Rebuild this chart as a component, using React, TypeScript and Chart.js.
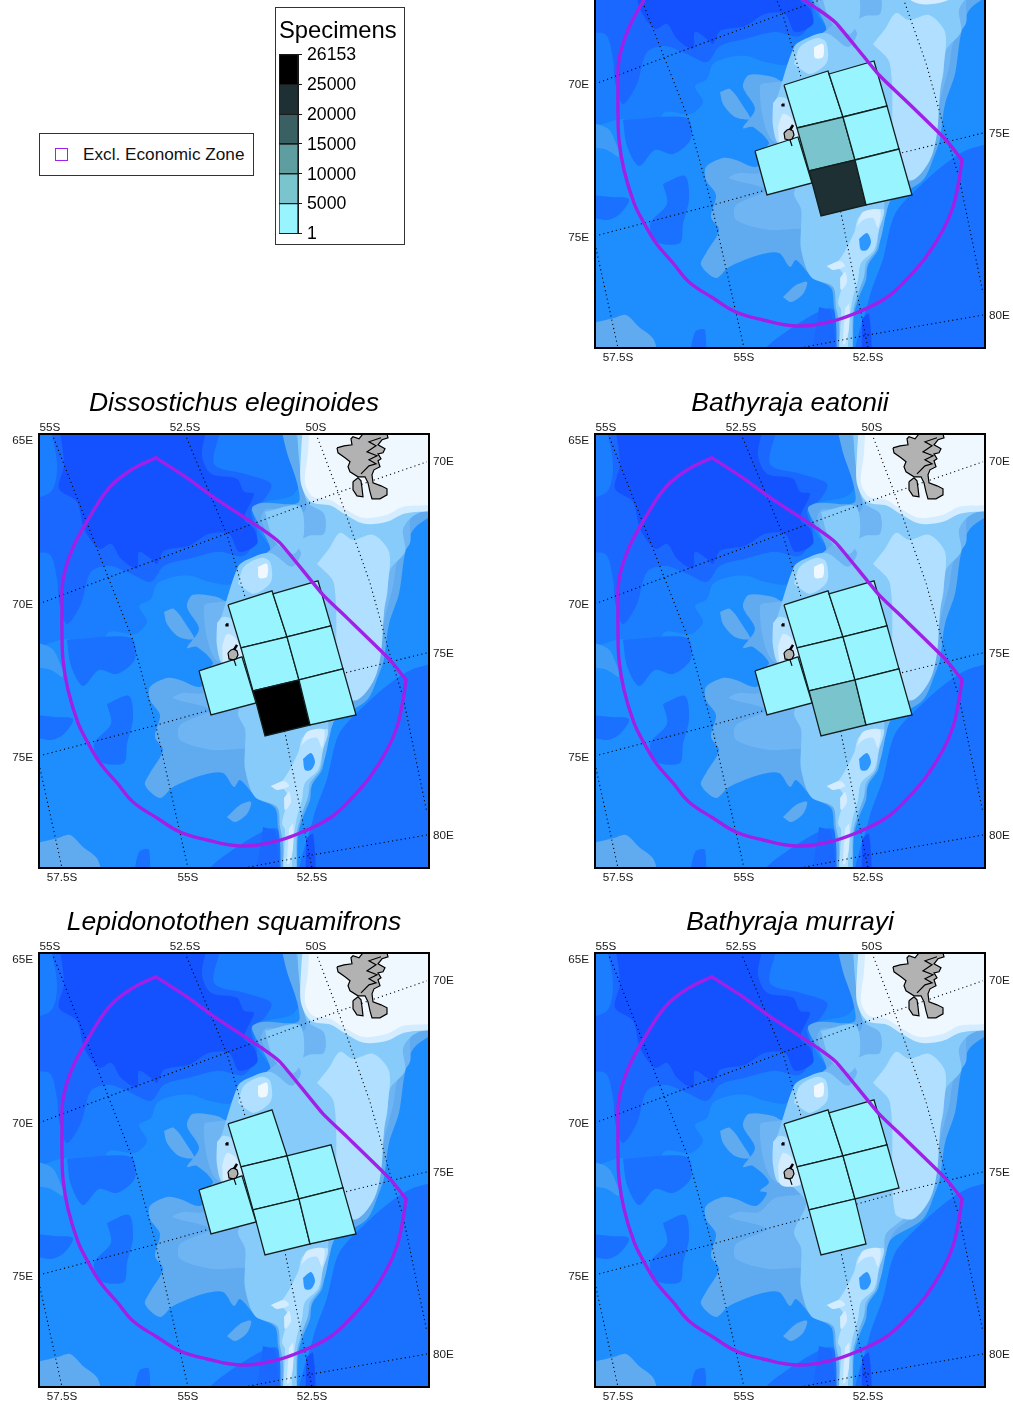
import React, { useEffect, useRef } from "react";
import { Chart, registerables } from "chart.js";

Chart.register(...registerables);

type P = number[];

// ---- map extents (projected map units) ----
const mapWidth = 390;
const mapHeight = 434;

// ---- graticule tick labels ----
const topTickAt = [11, 146, 277];
const topTickLabels = ["55S", "52.5S", "50S"];
const bottomTickAt = [23, 149, 273];
const bottomTickLabels = ["57.5S", "55S", "52.5S"];
const leftTickAt = [6, 170, 323];
const leftTickLabels = ["65E", "70E", "75E"];
const rightTickAt = [27, 219, 401];
const rightTickLabels = ["70E", "75E", "80E"];

// ---- graticule ----
const meridian575: P[] = [[0, 330], [23, 434]];
const meridian55: P[] = [[13, 0], [93, 204], [116, 288], [149, 434]];
const meridian525: P[] = [[146, 0], [168, 53], [188, 101], [201, 146], [246, 299], [273, 434]];
const meridian50: P[] = [[277, 0], [299, 58], [331, 149], [351, 221], [364, 263], [388, 379]];
const parallel70: P[] = [[0, 170], [71, 143], [184, 101], [298, 59], [388, 28]];
const parallel75: P[] = [[0, 322], [118, 291], [171, 276], [306, 239], [388, 219]];
const parallel80: P[] = [[205, 434], [273, 421], [388, 401]];

// ---- exclusive economic zone ----
const eezArc: P[] = [
  [117, 24], [94, 35], [71, 53], [49, 86], [33, 116], [24, 146], [23, 173], [23, 199], [24, 226], [29, 256],
  [39, 289], [49, 309], [61, 329], [78, 349], [94, 368], [118, 384], [141, 398], [168, 406], [201, 412],
  [234, 408], [261, 399], [291, 384], [311, 366], [331, 343], [348, 316], [358, 293], [364, 266], [367, 246],
];
const eezNorthEast: P[] = [
  [367, 246], [351, 226], [308, 184], [284, 161], [261, 133], [241, 109], [224, 96], [174, 63], [148, 44], [117, 24],
];

// ---- bathymetry contours, deepest first ----
const contourNorth: P[] = [
  [0, 0], [300, 0], [255, 60], [225, 69], [215, 80], [222, 100], [232, 118], [205, 130], [193, 150], [170, 148],
  [152, 142], [135, 143], [118, 150], [112, 165], [100, 172], [108, 188], [96, 200], [70, 198], [60, 215],
  [40, 212], [28, 205], [0, 212],
];
const contourEast: P[] = [
  [390, 226], [372, 236], [350, 250], [325, 272], [300, 300], [288, 345], [274, 385], [264, 434], [390, 434],
];
const contourWestPatchA: P[] = [[68, 270], [90, 262], [94, 285], [88, 310], [85, 329], [62, 328], [55, 310], [72, 290]];
const contourWestPatchB: P[] = [[0, 279], [15, 283], [34, 285], [25, 300], [10, 306], [0, 295]];
const contourWestPatchC: P[] = [[28, 206], [92, 204], [96, 225], [78, 240], [60, 236], [44, 252], [32, 232]];
const contourSouthA: P[] = [[93, 434], [100, 418], [110, 416], [108, 434]];
const contourSouthB: P[] = [[150, 434], [185, 422], [238, 395], [240, 434]];
const contourMid: P[] = [
  [8, 0], [180, 0], [175, 30], [205, 40], [232, 50], [225, 66], [212, 76], [218, 100], [205, 122], [180, 118],
  [150, 125], [125, 132], [112, 148], [92, 140], [70, 132], [52, 138], [42, 170], [28, 190], [20, 168],
  [18, 145], [10, 120], [0, 118], [0, 72], [12, 58], [18, 30],
];
const contourDeep: P[] = [
  [18, 0], [165, 0], [163, 22], [172, 40], [198, 45], [205, 58], [215, 60], [205, 85], [215, 95], [218, 110],
  [200, 118], [190, 100], [170, 100], [150, 112], [125, 117], [118, 130], [112, 125], [100, 118], [98, 135],
  [82, 125], [72, 110], [60, 115], [45, 95], [38, 68], [20, 55], [25, 30],
];
const contourDeepRidgeA: P[] = [[224, 393], [236, 398], [238, 434], [218, 434]];
const contourDeepRidgeB: P[] = [[267, 405], [274, 400], [276, 434], [268, 434]];
const contourShelfSW: P[] = [[0, 413], [19, 404], [31, 401], [44, 413], [59, 426], [61, 434], [0, 434]];
const contourShelfWest: P[] = [[0, 205], [12, 214], [22, 232], [24, 243], [12, 236], [0, 228]];
const contourShelfSouth: P[] = [[188, 383], [201, 371], [212, 368], [208, 380], [196, 388]];
const contourPlateau1: P[] = [
  [239, 0], [390, 0], [390, 66], [375, 95], [366, 120], [360, 160], [350, 190], [345, 225], [340, 240], [328, 266],
  [300, 283], [294, 289], [291, 301], [286, 319], [283, 336], [273, 351], [271, 366], [264, 383], [259, 401],
  [256, 434], [244, 434], [241, 408], [239, 393], [236, 374], [218, 364], [201, 346], [195, 353], [184, 339],
  [164, 341], [134, 353], [121, 364], [106, 351], [111, 339], [124, 316], [116, 303], [121, 281], [111, 266],
  [111, 253], [128, 244], [141, 246], [161, 253], [172, 240], [165, 238], [174, 229], [158, 213], [148, 214],
  [160, 195], [148, 173], [154, 161], [178, 163], [190, 168], [193, 150], [201, 133], [231, 118], [219, 89],
  [213, 74], [224, 69], [259, 69], [258, 49], [248, 19],
];
const contourIslet: P[] = [[125, 178], [135, 175], [150, 195], [155, 205], [140, 203], [128, 190]];
const contourPlateau2: P[] = [
  [250, 0], [390, 0], [390, 68], [373, 83], [371, 109], [359, 126], [354, 153], [346, 183], [338, 213], [334, 236],
  [318, 263], [300, 278], [292, 295], [288, 315], [284, 330], [275, 345], [268, 365], [262, 385], [256, 400],
  [254, 434], [247, 434], [245, 400], [243, 380], [238, 365], [215, 345], [208, 333], [211, 316], [174, 316],
  [141, 306], [141, 291], [171, 276], [134, 264], [144, 259], [164, 259], [180, 245], [215, 240], [176, 225],
  [165, 172], [180, 168], [200, 165], [205, 150], [215, 130], [240, 108], [232, 105], [222, 85], [228, 75],
  [265, 78], [266, 50], [262, 20],
];
const contourPlateau3: P[] = [
  [258, 0], [390, 0], [390, 60], [373, 83], [364, 96], [366, 118], [351, 136], [348, 163], [339, 189], [331, 219],
  [321, 239], [311, 263], [291, 281], [289, 301], [284, 316], [281, 336], [271, 349], [269, 363], [263, 379],
  [258, 399], [256, 434], [246, 434], [244, 409], [241, 393], [238, 373], [216, 363], [206, 335], [206, 313],
  [206, 295], [199, 279], [211, 250], [195, 230], [178, 200], [184, 178], [199, 133], [208, 126], [231, 119],
  [253, 133], [262, 120], [258, 110], [270, 102], [285, 100], [285, 80], [268, 68], [260, 25],
];
const contourNorthPatch3: P[] = [[226, 78], [260, 72], [265, 100], [255, 120], [238, 110], [232, 100]];
const contourPlateau4: P[] = [
  [278, 130], [290, 115], [301, 99], [314, 106], [334, 101], [350, 118], [349, 150], [345, 179], [342, 219],
  [335, 246], [318, 266], [300, 260], [295, 150],
];
const contourNorthRise4: P[] = [[199, 150], [205, 133], [222, 124], [231, 128], [232, 148], [215, 160]];
const contourRidge4: P[] = [
  [231, 353], [244, 346], [259, 319], [264, 303], [281, 296], [289, 296], [284, 316], [279, 336], [266, 349],
  [263, 366], [258, 383], [254, 409], [251, 434], [244, 434], [246, 396], [243, 389], [249, 363], [243, 354],
];
const contourHeardRise4: P[] = [[178, 189], [184, 183], [193, 186], [203, 210], [206, 228], [184, 230], [178, 212]];
const contourKerguelen5: P[] = [
  [265, 0], [262, 20], [262, 50], [272, 68], [292, 72], [305, 80], [325, 90], [348, 88], [365, 80], [390, 70], [390, 0],
];
const contourRidgeBasin: P[] = [[264, 325], [272, 319], [276, 328], [272, 336], [266, 336]];
const contourRidge5A: P[] = [[232, 352], [245, 347], [250, 352], [238, 356]];
const contourRidge5B: P[] = [[245, 364], [250, 358], [252, 368], [246, 376]];
const contourRidge5C: P[] = [[250, 395], [254, 390], [254, 414], [250, 430], [248, 430]];
const contourRidge5D: P[] = [[262, 312], [268, 298], [285, 296], [283, 314], [278, 304], [268, 306]];
const contourHeardRise5: P[] = [[183, 213], [188, 200], [197, 205], [204, 222], [205, 232], [186, 232]];
const contourNorthRise5: P[] = [[219, 133], [228, 130], [228, 143], [220, 144]];
const contourKerguelen6: P[] = [
  [271, 0], [269, 19], [266, 49], [274, 63], [291, 66], [304, 74], [324, 84], [348, 81], [364, 73], [390, 65], [390, 0],
];

// ---- islands ----
const kerguelenMain: P[] = [
  [298, 14], [305, 12], [313, 11], [312, 5], [314, 3], [320, 5], [324, 0], [348, 0], [349, 4], [343, 6], [339, 11],
  [346, 15], [344, 19], [339, 20], [342, 25], [339, 27], [341, 33], [335, 36], [333, 41], [334, 49], [342, 52],
  [348, 55], [348, 61], [341, 65], [333, 65], [331, 58], [329, 49], [326, 43], [319, 43], [311, 38], [309, 33],
  [311, 28], [306, 24], [299, 19],
];
const kerguelenSouth: P[] = [[314, 48], [319, 44], [322, 47], [323, 54], [324, 63], [318, 62], [314, 56]];
const kerguelenInlets: P[] = [[322, 40], [330, 32], [337, 30], [330, 26], [338, 22], [328, 18], [337, 12], [330, 8], [342, 4]];
const heardIsland: P[] = [[189, 219], [192, 216], [195, 215], [198, 217], [199, 221], [197, 225], [194, 226], [190, 225]];
const heardPeak: P[] = [[195, 216], [198, 211]];
const heardSpit: P[] = [[195, 226], [197, 232]];
const mcdonaldIsland: P[] = [[187, 190], [189, 190], [189, 192], [187, 192]];

// ---- survey blocks ----
const blockA: P[] = [[189, 171], [233, 157], [248, 203], [202, 214]];
const blockB: P[] = [[234, 160], [279, 147], [292, 192], [248, 203]];
const blockC: P[] = [[202, 214], [248, 203], [260, 246], [214, 257]];
const blockD: P[] = [[248, 203], [292, 192], [304, 235], [260, 246]];
const blockE: P[] = [[214, 257], [260, 246], [271, 291], [226, 302]];
const blockF: P[] = [[260, 246], [304, 235], [317, 281], [271, 291]];
const blockG: P[] = [[160, 237], [203, 223], [217, 269], [172, 281]];

// ---- specimens per block: A B C D E F G (0 = no record) ----
const specimensTopRight = [1500, 1500, 7000, 1500, 22000, 1500, 1500];
const specimensDissostichus = [1500, 1500, 1500, 1500, 26153, 1500, 1500];
const specimensEatonii = [1500, 1500, 1500, 1500, 7000, 1500, 1500];
const specimensLepidonotothen = [1500, 0, 1500, 1500, 1500, 1500, 1500];
const specimensMurrayi = [1500, 1500, 1500, 1500, 1500, 0, 0];

// ---- colour scale ----
const binEdges = [1, 5000, 10000, 15000, 20000, 25000, 26153];
const binLabels = ["1", "5000", "10000", "15000", "20000", "25000", "26153"];
const legendBinHeights = [1, 1, 1, 1, 1, 1];

const binColors = ["#98F5FF", "#7AC5CD", "#5F9EA0", "#3B6064", "#1E3033", "#000000"];
const C = {
  base: "#1E8EFF", north: "#1A7EFF", east: "#1A70FF", mid: "#1A68FF", deep: "#1452FF",
  s0: "#60AAF0", s1: "#6FB4F3", s2: "#87CBFA", s3: "#B0DFFF", s4: "#D4ECFF", s5: "#F0F8FF",
};

const layers: [P[], string][] = [
  [contourNorth, C.north], [contourEast, C.east], [contourWestPatchA, C.east], [contourWestPatchB, C.east],
  [contourWestPatchC, C.east], [contourSouthA, C.east], [contourSouthB, C.east], [contourMid, C.mid],
  [contourDeep, C.deep], [contourDeepRidgeA, C.mid], [contourDeepRidgeB, C.deep], [contourShelfSW, C.s0],
  [contourShelfWest, "#3F9CF6"], [contourShelfSouth, C.s0], [contourPlateau1, C.s0], [contourIslet, C.s0],
  [contourPlateau2, C.s1], [contourPlateau3, C.s2], [contourNorthPatch3, C.s2], [contourPlateau4, C.s3],
  [contourNorthRise4, C.s3], [contourRidge4, C.s3], [contourHeardRise4, C.s3], [contourKerguelen5, C.s4],
  [contourRidgeBasin, "#2E96FF"], [contourRidge5A, C.s4], [contourRidge5B, C.s4], [contourRidge5C, C.s4],
  [contourRidge5D, C.s4], [contourHeardRise5, C.s4], [contourNorthRise5, C.s5], [contourKerguelen6, C.s5],
];
const graticule = [meridian575, meridian55, meridian525, meridian50, parallel70, parallel75, parallel80];
const blocks = [blockA, blockB, blockC, blockD, blockE, blockF, blockG];

const FONT = "'Liberation Sans', Arial, sans-serif";
const MARGIN = { left: 39, top: 60, bottom: 30 };
const BLEED = 20;

function binColor(v: number) {
  for (let i = 0; i < binColors.length; i++) if (v <= binEdges[i + 1]) return binColors[i];
  return binColors[binColors.length - 1];
}
const pts = (a: P[]) => a.map(([x, y]) => ({ x, y }));
const closed = (a: P[]) => pts([...a, a[0]]);
// contours that reach the map edge run on past it, so rounding never pulls them off the frame
const bled = (a: P[]) => a.map(([x, y]) => [
  x <= 0 ? -BLEED : x >= mapWidth ? mapWidth + BLEED : x,
  y <= 0 ? -BLEED : y >= mapHeight ? mapHeight + BLEED : y,
]);

function axis(position: string, at: number[], labels: string[], size: number, padding: number, max: number, reverse = false, labelOffset = 0) {
  return {
    type: "linear",
    position,
    min: 0,
    max,
    reverse,
    grid: { display: false, drawTicks: false },
    border: { display: true, color: "#000", width: 2, z: 5 },
    afterBuildTicks: (s: any) => { s.ticks = at.map((value) => ({ value })); },
    afterFit: (s: any) => {
      if (position === "top" || position === "bottom") s.height = size; else s.width = size;
    },
    ticks: {
      autoSkip: false, maxRotation: 0, minRotation: 0, padding, labelOffset, color: "#1a1a1a",
      font: { family: FONT, size: 11.7 },
      callback: (v: number) => labels[at.indexOf(v)] ?? "",
    },
  };
}

function MapPanel({ left, top, title, counts }: { left: number; top: number; title?: string; counts: number[] }) {
  const ref = useRef<HTMLCanvasElement>(null);
  useEffect(() => {
    const datasets: any[] = [];
    const poly = (a: P[], o: any) => datasets.push({ data: closed(a), showLine: true, pointRadius: 0, tension: 0, clip: 0, ...o });
    const line = (a: P[], o: any) => datasets.push({ data: pts(a), showLine: true, pointRadius: 0, tension: 0, clip: 0, fill: false, ...o });

    poly([[0, 0], [mapWidth, 0], [mapWidth, mapHeight], [0, mapHeight]], { fill: "shape", backgroundColor: C.base, borderWidth: 0 });
    layers.forEach(([a, color]) => poly(bled(a), { fill: "shape", backgroundColor: color, borderWidth: 0, tension: 0.3 }));
    graticule.forEach((a) => line(a, { borderColor: "#000", borderWidth: 1.1, borderDash: [1.1, 3.2] }));
    blocks.forEach((a, i) => {
      if (counts[i] > 0) poly(a, { fill: "shape", backgroundColor: binColor(counts[i]), borderColor: "#10201f", borderWidth: 1.3 });
    });
    [kerguelenMain, kerguelenSouth, heardIsland, mcdonaldIsland].forEach((a) =>
      poly(a, { fill: "shape", backgroundColor: a === mcdonaldIsland ? "#000" : "#B2B2B2", borderColor: "#000", borderWidth: 1.2 }));
    line(kerguelenInlets, { borderColor: "#000", borderWidth: 1.2 });
    line(heardPeak, { borderColor: "#000", borderWidth: 2.5 });
    line(heardSpit, { borderColor: "#000", borderWidth: 1.2 });
    line(eezArc, { borderColor: "#A020E8", borderWidth: 3.4, tension: 0.4, borderCapStyle: "round" });
    line(eezNorthEast, { borderColor: "#A020E8", borderWidth: 3.4, tension: 0.15, borderCapStyle: "round" });
    datasets.forEach((d, i) => { d.order = datasets.length - i; });

    const topAxisHeight = title ? 14 : MARGIN.top;
    const chart = new Chart(ref.current as any, {
      type: "scatter",
      data: { datasets },
      options: {
        animation: false,
        responsive: false,
        devicePixelRatio: 1,
        events: [],
        layout: { padding: 0 },
        elements: { line: { capBezierPoints: false } },
        plugins: {
          legend: { display: false },
          tooltip: { enabled: false },
          title: {
            display: !!title, text: title, color: "#000",
            font: { family: FONT, size: 26.5, style: "italic", weight: "normal", lineHeight: 1.2 },
            padding: { top: 14, bottom: 0 },
          },
        },
        scales: {
          x: axis("bottom", bottomTickAt, bottomTickLabels, MARGIN.bottom, 3, mapWidth),
          xTop: axis("top", topTickAt, topTickLabels, topAxisHeight, -1, mapWidth),
          y: axis("left", leftTickAt, leftTickLabels, MARGIN.left, 6, mapHeight, true, 1),
          yRight: axis("right", rightTickAt, rightTickLabels, MARGIN.left, 4, mapHeight, true, 1),
        },
      } as any,
    });
    return () => chart.destroy();
  }, []);
  return (
    <canvas
      ref={ref}
      width={mapWidth + 2 * MARGIN.left}
      height={mapHeight + MARGIN.top + MARGIN.bottom}
      style={{ position: "absolute", left: left - MARGIN.left, top: top - MARGIN.top }}
    />
  );
}

function SpecimensLegend() {
  const ref = useRef<HTMLCanvasElement>(null);
  useEffect(() => {
    const chart = new Chart(ref.current as any, {
      type: "bar",
      data: {
        labels: [""],
        datasets: legendBinHeights.map((h, i) => ({
          data: [h], backgroundColor: binColors[i], borderColor: "#222", borderWidth: 1, stack: "s",
          barPercentage: 1, categoryPercentage: 1,
        })),
      },
      options: {
        animation: false,
        responsive: false,
        devicePixelRatio: 1,
        events: [],
        layout: { padding: { left: 3, bottom: 5 } },
        plugins: {
          legend: { display: false },
          tooltip: { enabled: false },
          title: {
            display: true, text: "Specimens", color: "#000", align: "start",
            font: { family: FONT, size: 23.8, weight: "normal", lineHeight: 1.2 },
            padding: { top: 9, bottom: 9 },
          },
        },
        scales: {
          x: { display: false, stacked: true },
          y: {
            position: "right", stacked: true, min: 0, max: 6,
            grid: { display: true, color: "#1a1a1a", lineWidth: 1, tickLength: 4, z: 2 },
            border: { display: true, color: "#1a1a1a", width: 1, z: 2 },
            afterBuildTicks: (s: any) => { s.ticks = binLabels.map((_, value) => ({ value })); },
            afterFit: (s: any) => { s.width = 106; },
            ticks: {
              padding: 5, color: "#000", autoSkip: false, labelOffset: 1,
              font: { family: FONT, size: 17.7 },
              callback: (v: number) => binLabels[v],
            },
          },
        },
      } as any,
    });
    return () => chart.destroy();
  }, []);
  return (
    <div style={{ position: "absolute", left: 275, top: 7, width: 128, height: 236, border: "1px solid #333", background: "#fff" }}>
      <canvas ref={ref} width={128} height={241} style={{ display: "block", position: "absolute", left: 0, top: 0 }} />
    </div>
  );
}

export default function App() {
  return (
    <div style={{ position: "absolute", left: 0, top: 0, width: 1013, height: 1403, overflow: "hidden", background: "#fff" }}>
      <div style={{ position: "absolute", left: 39, top: 133, width: 213, height: 41, border: "1px solid #333", fontFamily: FONT, fontSize: 17.2 }}>
        <div style={{ position: "absolute", left: 15, top: 14, width: 11, height: 11, border: "1px solid #A020F0" }} />
        <div style={{ position: "absolute", left: 43, top: 10, whiteSpace: "nowrap", color: "#111" }}>Excl. Economic Zone</div>
      </div>
      <SpecimensLegend />
      <MapPanel left={595} top={-86} counts={specimensTopRight} />
      <MapPanel left={39} top={434} title="Dissostichus eleginoides" counts={specimensDissostichus} />
      <MapPanel left={595} top={434} title="Bathyraja eatonii" counts={specimensEatonii} />
      <MapPanel left={39} top={953} title="Lepidonotothen squamifrons" counts={specimensLepidonotothen} />
      <MapPanel left={595} top={953} title="Bathyraja murrayi" counts={specimensMurrayi} />
    </div>
  );
}
